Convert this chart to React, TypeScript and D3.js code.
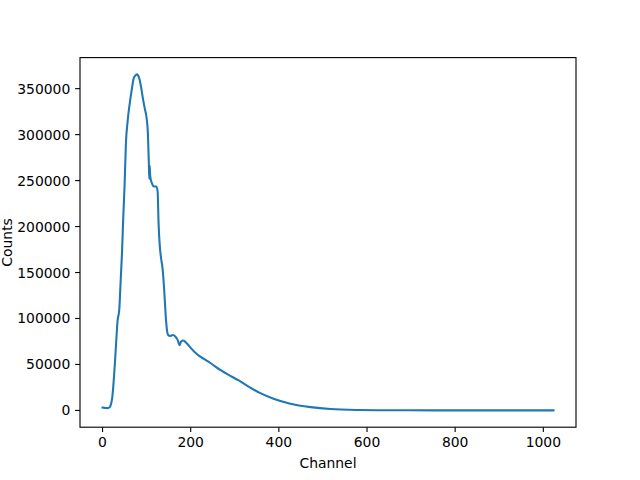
import React from "react";
import * as d3 from "d3";

const channels = [0, 5, 10, 15, 18, 22, 25, 28, 31, 34, 38, 41, 44, 47, 50, 53, 57, 62, 66, 70, 74, 78, 81, 84, 88, 92, 96, 100, 103, 105, 106, 107, 108, 110, 113, 116, 122, 125, 127, 130, 133, 136, 140, 143, 146, 149, 153, 160, 165, 170, 175, 178, 183, 188, 193, 200, 210, 220, 230, 248, 267, 290, 309, 335, 358, 388, 426, 472, 517, 578, 650, 750, 850, 1023];
const counts = [3000, 2800, 2500, 3000, 5000, 14000, 30000, 51000, 75000, 97000, 110000, 140000, 170000, 210000, 245000, 290000, 315000, 335000, 348000, 360000, 364000, 365500, 364000, 360000, 350000, 338000, 328000, 318000, 300000, 270000, 252000, 266000, 256000, 250000, 246000, 243500, 243500, 238000, 205000, 178000, 165000, 155000, 130000, 105000, 88000, 82000, 81000, 82000, 80500, 77000, 71000, 75000, 76000, 74500, 72000, 68000, 63000, 59000, 56000, 50500, 44000, 37500, 32600, 24800, 18800, 12700, 7300, 3600, 1500, 500, 200, 80, 40, 20];
const xTicks = [0, 200, 400, 600, 800, 1000];
const yTicks = [0, 50000, 100000, 150000, 200000, 250000, 300000, 350000];

const W = 640, H = 480;
const L = 80, R = 576, T = 57.6, B = 427.2;
const FONT = "DejaVu Sans";

export default function App() {
  const data = channels.map((c, i) => [c, counts[i]] as [number, number]);
  const [x0, x1] = d3.extent(channels) as [number, number];
  const [y0, y1] = d3.extent(counts) as [number, number];
  const mx = (x1 - x0) * 0.05, my = (y1 - y0) * 0.05;
  const x = d3.scaleLinear().domain([x0 - mx, x1 + mx]).range([L, R]);
  const y = d3.scaleLinear().domain([y0 - my, y1 + my]).range([B, T]);
  const line = d3.line<[number, number]>().x(d => x(d[0])).y(d => y(d[1])).curve(d3.curveMonotoneX);
  return (
    <svg width={W} height={H} style={{ position: "absolute", left: 0, top: 0, background: "#fff" }} fontFamily={FONT}>
      <rect x={0} y={0} width={W} height={H} fill="#fff" />
      <path d={line(data) || ""} fill="none" stroke="#1f77b4" strokeWidth={2.08} strokeLinejoin="round" strokeLinecap="square" />
      <rect x={L} y={T} width={R - L} height={B - T} fill="none" stroke="#000" strokeWidth={1.11} />
      {xTicks.map(t => (
        <g key={"x" + t}>
          <line x1={x(t)} x2={x(t)} y1={B} y2={B + 4.86} stroke="#000" strokeWidth={1.11} />
          <text x={x(t)} y={B + 9.7} fontSize={13.9} textAnchor="middle" dominantBaseline="hanging" fill="#000">{t}</text>
        </g>
      ))}
      {yTicks.map(t => (
        <g key={"y" + t}>
          <line x1={L - 4.86} x2={L} y1={y(t)} y2={y(t)} stroke="#000" strokeWidth={1.11} />
          <text x={L - 9.7} y={y(t)} fontSize={13.9} textAnchor="end" dominantBaseline="central" fill="#000">{t}</text>
        </g>
      ))}
      <text x={(L + R) / 2} y={468} fontSize={13.9} textAnchor="middle" fill="#000">Channel</text>
      <text transform={`translate(${11.5},${(T + B) / 2}) rotate(-90)`} fontSize={13.9} textAnchor="middle" fill="#000">Counts</text>
    </svg>
  );
}
